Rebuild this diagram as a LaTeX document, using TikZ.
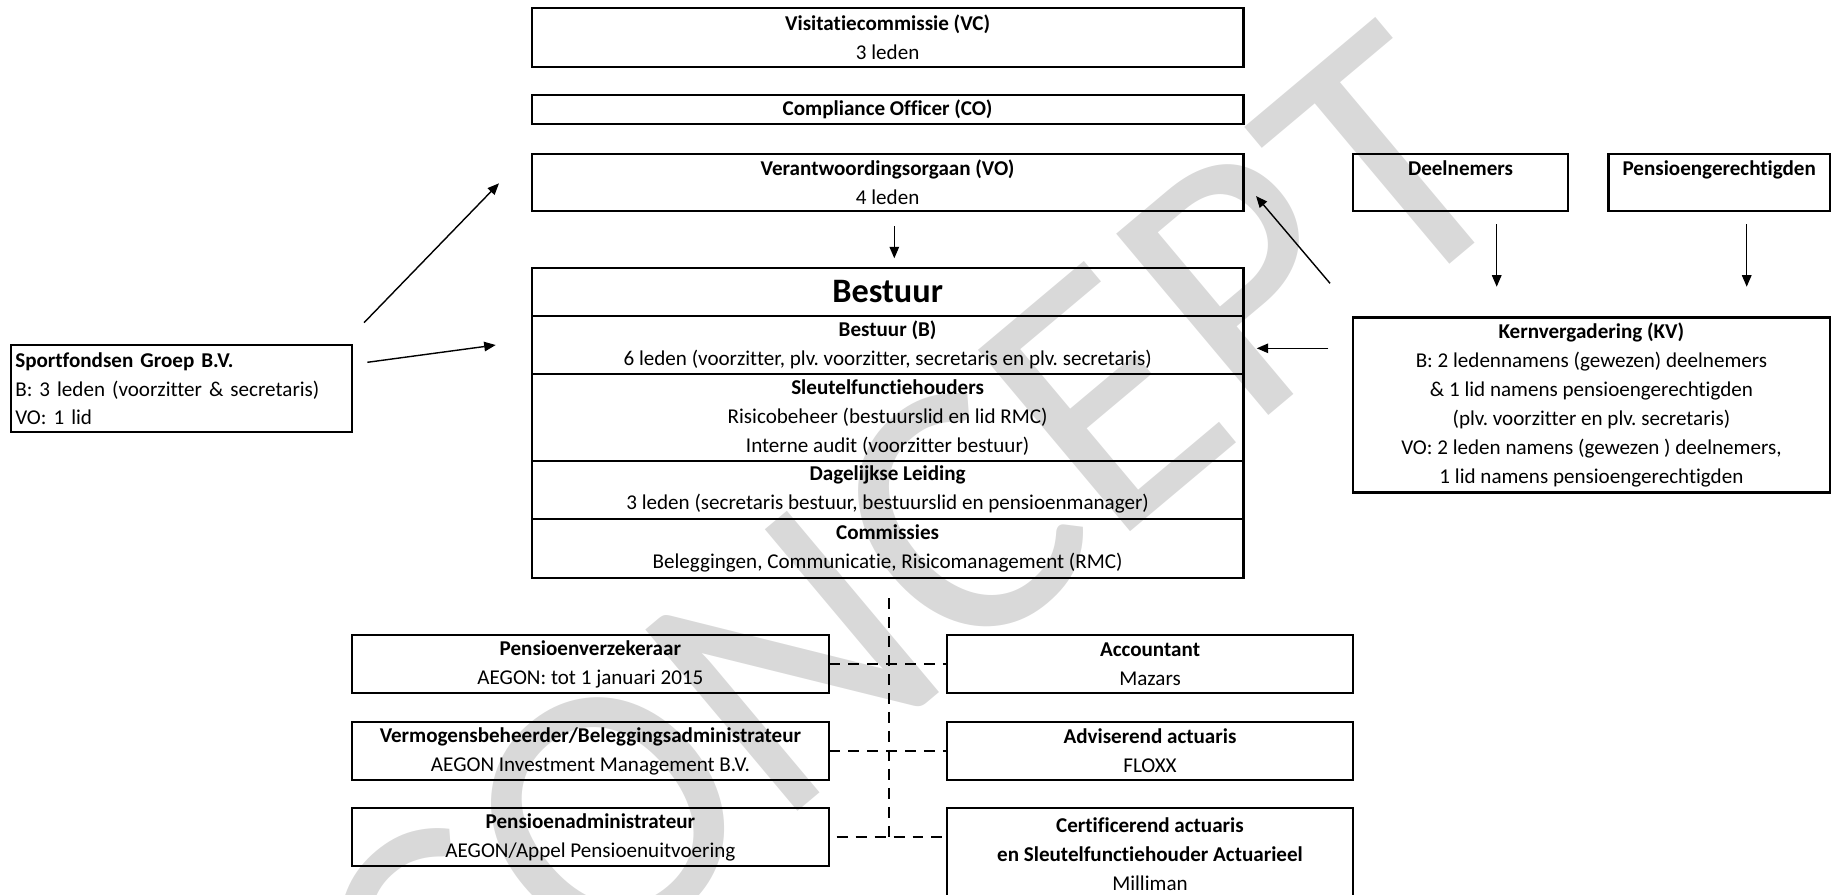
\documentclass[tikz,border=0pt]{standalone}
\usepackage{fontspec}
\setmainfont{Carlito}[Ligatures=NoCommon]
\usetikzlibrary{positioning,arrows.meta}
\frenchspacing

\begin{document}
\begin{tikzpicture}[
  x=0.02cm, y=-0.02cm,
  %--- block styles ---
  box/.style={draw, line width=1.3pt, inner sep=0pt, outer sep=0pt, align=center,
    font=\fontsize{12}{16.4}\selectfont},
  wide/.style={box, minimum width=14.24cm},
  side/.style={box, minimum width=9.546cm, minimum height=1.15cm},
  partner/.style={box, minimum width=8.108cm, minimum height=1.15cm},
  member/.style={box, minimum height=1.14cm},
  %--- arrows ---
  arr/.style={-{Triangle[length=2.3mm,width=1.9mm]}, line width=0.8pt},
  dline/.style={line width=1.1pt, dash pattern=on 0.22cm off 0.16cm},
  %--- watermark ---
  wm/.style={text=black!15, inner sep=0pt, font=\fontsize{210}{210}\selectfont}
]
\useasboundingbox (0,0) rectangle (1831,894);

%% ── WATERMARK ───────────────────────────────────────────────────────────────
\node[wm, rotate=40] (concept) at (910,562) {CONCEPT};

%% ── TOP COLUMN ──────────────────────────────────────────────────────────────
\node[wide, minimum height=1.168cm] (vc) at (887.6,37.5)
  {\textbf{Visitatiecommissie (VC)}\\3 leden};
\node[wide, minimum height=0.58cm] (co) at (887.6,109.5)
  {\textbf{Compliance Officer (CO)}};
\node[wide, minimum height=1.14cm] (vo) at (887.6,182.5)
  {\textbf{Verantwoordingsorgaan (VO)}\\4 leden};

%% ── BESTUUR ─────────────────────────────────────────────────────────────────
\node[wide, minimum height=0.948cm, anchor=north,
  font=\fontsize{19.5}{23}\selectfont\bfseries] (bestuur) at (887.6,268.3) {Bestuur};
\node[wide, minimum height=1.172cm, below=0pt of bestuur] (bb)
  {\textbf{Bestuur (B)}\\6 leden (voorzitter, plv. voorzitter, secretaris en plv. secretaris)};
\node[wide, minimum height=1.728cm, below=0pt of bb] (sfh)
  {\textbf{Sleutelfunctiehouders}\\Risicobeheer (bestuurslid en lid RMC)\\
   Interne audit (voorzitter bestuur)};
\node[wide, minimum height=1.16cm, below=0pt of sfh] (dl)
  {\textbf{Dagelijkse Leiding}\\3 leden (secretaris bestuur, bestuurslid en pensioenmanager)};
\node[wide, minimum height=1.18cm, below=0pt of dl] (com)
  {\textbf{Commissies}\\Beleggingen, Communicatie, Risicomanagement (RMC)};

%% ── LEFT: SPORTFONDSEN ──────────────────────────────────────────────────────
\node[box, align=left, inner xsep=0.09cm, text width=6.65cm, minimum height=1.746cm]
  (sg) at (181.5,388.7)
  {\textbf{Sportfondsen Groep B.V.}\\B: 3 leden (voorzitter \& secretaris)\\VO: 1 lid};

%% ── RIGHT: DEELNEMERS / KV ──────────────────────────────────────────────────
\node[member, minimum width=4.312cm] (dn) at (1460.5,182.5)
  {\textbf{Deelnemers}\\\mbox{}};
\node[member, minimum width=4.434cm] (pg) at (1719.2,182.5)
  {\textbf{Pensioengerechtigden}\\\mbox{}};
\node[box, minimum width=9.546cm, minimum height=3.5cm] (kv) at (1591.4,405)
  {\textbf{Kernvergadering (KV)}\\
   B: 2 ledennamens (gewezen) deelnemers\\
   \& 1 lid namens pensioengerechtigden\\
   (plv. voorzitter en plv. secretaris)\\
   VO: 2 leden namens (gewezen ) deelnemers,\\
   1 lid namens pensioengerechtigden};

%% ── BOTTOM: SERVICE PROVIDERS ───────────────────────────────────────────────
\node[side] (pv) at (590.4,664)
  {\textbf{Pensioenverzekeraar}\\AEGON: tot 1 januari 2015};
\node[side] (vb) at (590.4,751)
  {\textbf{Vermogensbeheerder/Beleggingsadministrateur}\\AEGON Investment Management B.V.};
\node[side] (pa) at (590.4,837)
  {\textbf{Pensioenadministrateur}\\AEGON/Appel Pensioenuitvoering};

\node[partner] (acc) at (1150,664) {\textbf{Accountant}\\Mazars};
\node[partner] (adv) at (1150,751) {\textbf{Adviserend actuaris}\\FLOXX};
\node[partner, minimum height=1.83cm, anchor=north] (cert) at (1150,808.3)
  {\textbf{Certificerend actuaris}\\\textbf{en Sleutelfunctiehouder Actuarieel}\\Milliman};

%% ── ARROW END POINTS ────────────────────────────────────────────────────────
\coordinate (vo-out)  at (894.3,226);
\coordinate (b-in)    at (894.3,258.3);
\coordinate (sg-up)   at (364,322.7);
\coordinate (vo-inl)  at (499,183.3);
\coordinate (sg-rt)   at (367.3,362.3);
\coordinate (b-inl)   at (495.7,345);
\coordinate (kv-up)   at (1330,283.3);
\coordinate (vo-inr)  at (1256,196);
\coordinate (kv-lt)   at (1328.3,348.3);
\coordinate (b-inr)   at (1256.7,348.3);
\coordinate (dn-out)  at (1496.7,224);
\coordinate (kv-in1)  at (1496.7,286.7);
\coordinate (pg-out)  at (1746.7,224);
\coordinate (kv-in2)  at (1746.7,286.7);
\coordinate (trunk)   at (889.3,598);

%% ── ARROWS ──────────────────────────────────────────────────────────────────
\draw[arr] (vo-out) -- (b-in);
\draw[arr] (sg-up) -- (vo-inl);
\draw[arr] (sg-rt) -- (b-inl);
\draw[arr] (kv-up) -- (vo-inr);
\draw[arr] (kv-lt) -- (b-inr);
\draw[arr] (dn-out) -- (kv-in1);
\draw[arr] (pg-out) -- (kv-in2);

%% ── DASHED LINKS ────────────────────────────────────────────────────────────
\draw[dline] (trunk) -- (trunk |- pa.east);
\draw[dline] (pv.east) -- (acc.west);
\draw[dline] (vb.east) -- (adv.west);
\draw[dline, shorten <=0.15cm] (pa.east) -- (pa.east -| cert.west);
\end{tikzpicture}
\end{document}
